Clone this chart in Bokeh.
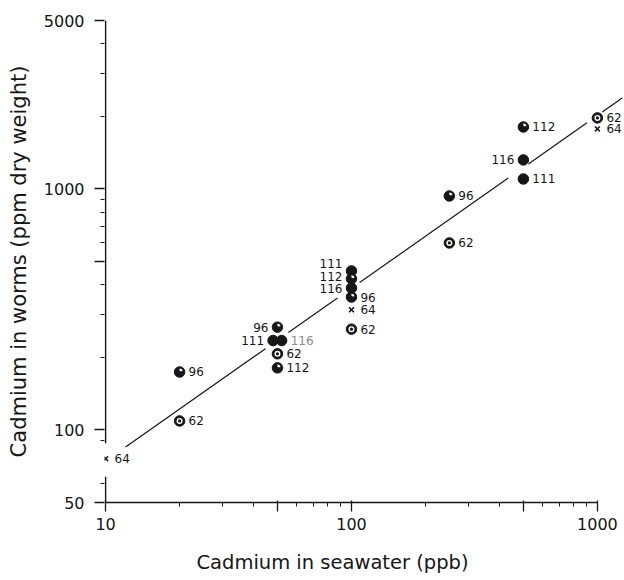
import math
from bokeh.plotting import figure
from bokeh.models import FixedTicker, ColumnDataSource
from bokeh.embed import file_html
from bokeh.resources import INLINE

# ---------------- data ----------------
populations = ["64", "62", "96", "96", "111", "116", "62", "112",
               "111", "112", "116", "96", "64", "62",
               "96", "62", "112", "116", "111", "62", "64"]
cd_seawater = [10, 20, 20, 50, 48, 52, 50, 50,
               100, 100, 100, 100, 100, 100,
               250, 250, 500, 500, 500, 1000, 1000]
cd_worms = [76, 109, 174, 267, 235, 235, 207, 181,
            457, 424, 388, 356, 315, 262,
            935, 597, 1808, 1320, 1100, 1972, 1775]

x_major_ticks = [10, 50, 100, 500, 1000]
x_tick_labels = {10: "10", 50: "", 100: "100", 500: "", 1000: "1000"}
x_minor_ticks = [20, 30, 40, 60, 70, 80, 90, 200, 300, 400, 600, 700, 800, 900]
y_major_ticks = [50, 100, 500, 1000, 5000]
y_tick_labels = {50: "50", 100: "100", 500: "", 1000: "1000", 5000: "5000"}
y_minor_ticks = [60, 90, 200, 300, 400, 600, 700, 800, 900, 2000, 3000, 4000]

X_TITLE = "Cadmium in seawater (ppb)"
Y_TITLE = "Cadmium in worms (ppm dry weight)"

# fitted regression line: worms = FIT_AT_10 * (seawater/10) ** FIT_SLOPE
FIT_AT_10 = 74.3
FIT_SLOPE = 0.717
FIT_X_END = 1265
# gaps left in the drawn line (seawater ppb), as in the original drawing
line_gaps = [(9.4, 12.06), (44.7, 55.4), (87.7, 107.9), (434, 524), (907, 1047)]
# broken y axis: no axis line between these worms values
y_axis_break = (64, 88)

# ---------------- styling ----------------
marker_kind = {"111": "solid", "116": "solid", "112": "dot", "96": "dot",
               "62": "ring", "64": "cross"}
left_labelled = {3, 4, 8, 9, 10, 17}
label_dy = {8: -7, 9: -2}
label_color = {5: "#8a8a8a"}
INK = "#161616"
FONT = "DejaVu Sans"
NBSP = "\u00a0"
X_TITLE_PAD = 10   # non-breaking spaces that pull the centred title left

p = figure(width=624, height=580, x_axis_type="log", y_axis_type="log",
           x_range=(9.9, FIT_X_END), y_range=(50, 5000),
           output_backend="svg", toolbar_location=None,
           min_border_left=104, min_border_right=2, min_border_top=20,
           min_border_bottom=78)
p.grid.visible = False
p.outline_line_color = None
p.background_fill_color = "white"

# ---- axes ----
xa = p.xaxis[0]
xa.ticker = FixedTicker(ticks=x_major_ticks, minor_ticks=x_minor_ticks)
xa.major_label_overrides = x_tick_labels
xa.bounds = (10, 1000)
xa.axis_line_color = INK
xa.axis_line_width = 1.5
xa.major_tick_line_color = INK
xa.minor_tick_line_color = INK
xa.major_tick_line_width = 1.3
xa.major_tick_out = 9
xa.major_tick_in = 2
xa.minor_tick_out = 4
xa.minor_tick_in = 0
xa.major_label_standoff = 6
xa.major_label_text_font = FONT
xa.major_label_text_font_size = "16px"
xa.major_label_text_color = INK
xa.axis_label = X_TITLE + NBSP * X_TITLE_PAD
xa.axis_label_standoff = 18
xa.axis_label_text_font = FONT
xa.axis_label_text_font_size = "19.5px"
xa.axis_label_text_font_style = "normal"
xa.axis_label_text_color = INK

ya = p.yaxis[0]
ya.ticker = FixedTicker(ticks=y_major_ticks, minor_ticks=y_minor_ticks)
ya.major_label_overrides = y_tick_labels
ya.axis_line_color = None
ya.major_tick_line_color = INK
ya.minor_tick_line_color = INK
ya.major_tick_line_width = 1.3
ya.major_tick_out = 10
ya.major_tick_in = 0
ya.minor_tick_out = 4
ya.minor_tick_in = 0
ya.major_label_standoff = 10
ya.major_label_text_font = FONT
ya.major_label_text_font_size = "16px"
ya.major_label_text_color = INK
ya.axis_label = Y_TITLE
ya.axis_label_text_font = FONT
ya.axis_label_text_font_size = "21px"
ya.axis_label_text_font_style = "normal"
ya.axis_label_text_color = INK
ya.axis_label_standoff = 10

# broken y-axis line drawn at seawater = 10
p.segment(x0=[10, 10], y0=[50, y_axis_break[1]],
          x1=[10, 10], y1=[y_axis_break[0], 5000],
          line_color=INK, line_width=1.5)

# ---- regression line with gaps ----
breaks = [9.0]
for a, b in line_gaps:
    breaks += [a, b]
breaks.append(FIT_X_END)
xs, ys = [], []
for i in range(0, len(breaks), 2):
    seg_x = [breaks[i], breaks[i + 1]]
    xs.append(seg_x)
    ys.append([FIT_AT_10 * (v / 10) ** FIT_SLOPE for v in seg_x])
p.multi_line(xs, ys, line_color=INK, line_width=1.2)

# ---- points ----
def subset(kinds):
    idx = [i for i, pop in enumerate(populations) if marker_kind[pop] in kinds]
    return ColumnDataSource(dict(x=[cd_seawater[i] for i in idx],
                                 y=[cd_worms[i] for i in idx]))

round_src = subset({"solid", "dot", "ring"})
p.scatter("x", "y", source=round_src, marker="circle", size=10.5,
          fill_color=INK, line_color=INK, line_width=1)

dot_src = subset({"dot"})
p.annular_wedge("x", "y", source=dot_src, inner_radius=1.2, outer_radius=3.4,
                inner_radius_units="screen", outer_radius_units="screen",
                start_angle=0.35, end_angle=1.6, fill_color="white",
                line_color=None)

ring_src = subset({"ring"})
p.annulus("x", "y", source=ring_src, inner_radius=1.6, outer_radius=3.0,
          inner_radius_units="screen", outer_radius_units="screen",
          fill_color="white", line_color=None)

cross_src = subset({"cross"})
p.scatter("x", "y", source=cross_src, marker="x", size=7,
          line_color=INK, line_width=1.5)

# ---- population labels ----
def label_source(left):
    idx = [i for i in range(len(populations)) if (i in left_labelled) == left]
    return ColumnDataSource(dict(
        x=[cd_seawater[i] for i in idx],
        y=[cd_worms[i] for i in idx],
        t=[populations[i] for i in idx],
        dy=[label_dy.get(i, 0) for i in idx],
        c=[label_color.get(i, INK) for i in idx]))

for left in (False, True):
    p.text("x", "y", text="t", source=label_source(left),
           x_offset=-9 if left else 9, y_offset="dy",
           text_align="right" if left else "left", text_baseline="middle",
           text_font_size="12px", text_color="c",
           text_font={"value": FONT})

open("out.html", "w").write(file_html(p, INLINE))
